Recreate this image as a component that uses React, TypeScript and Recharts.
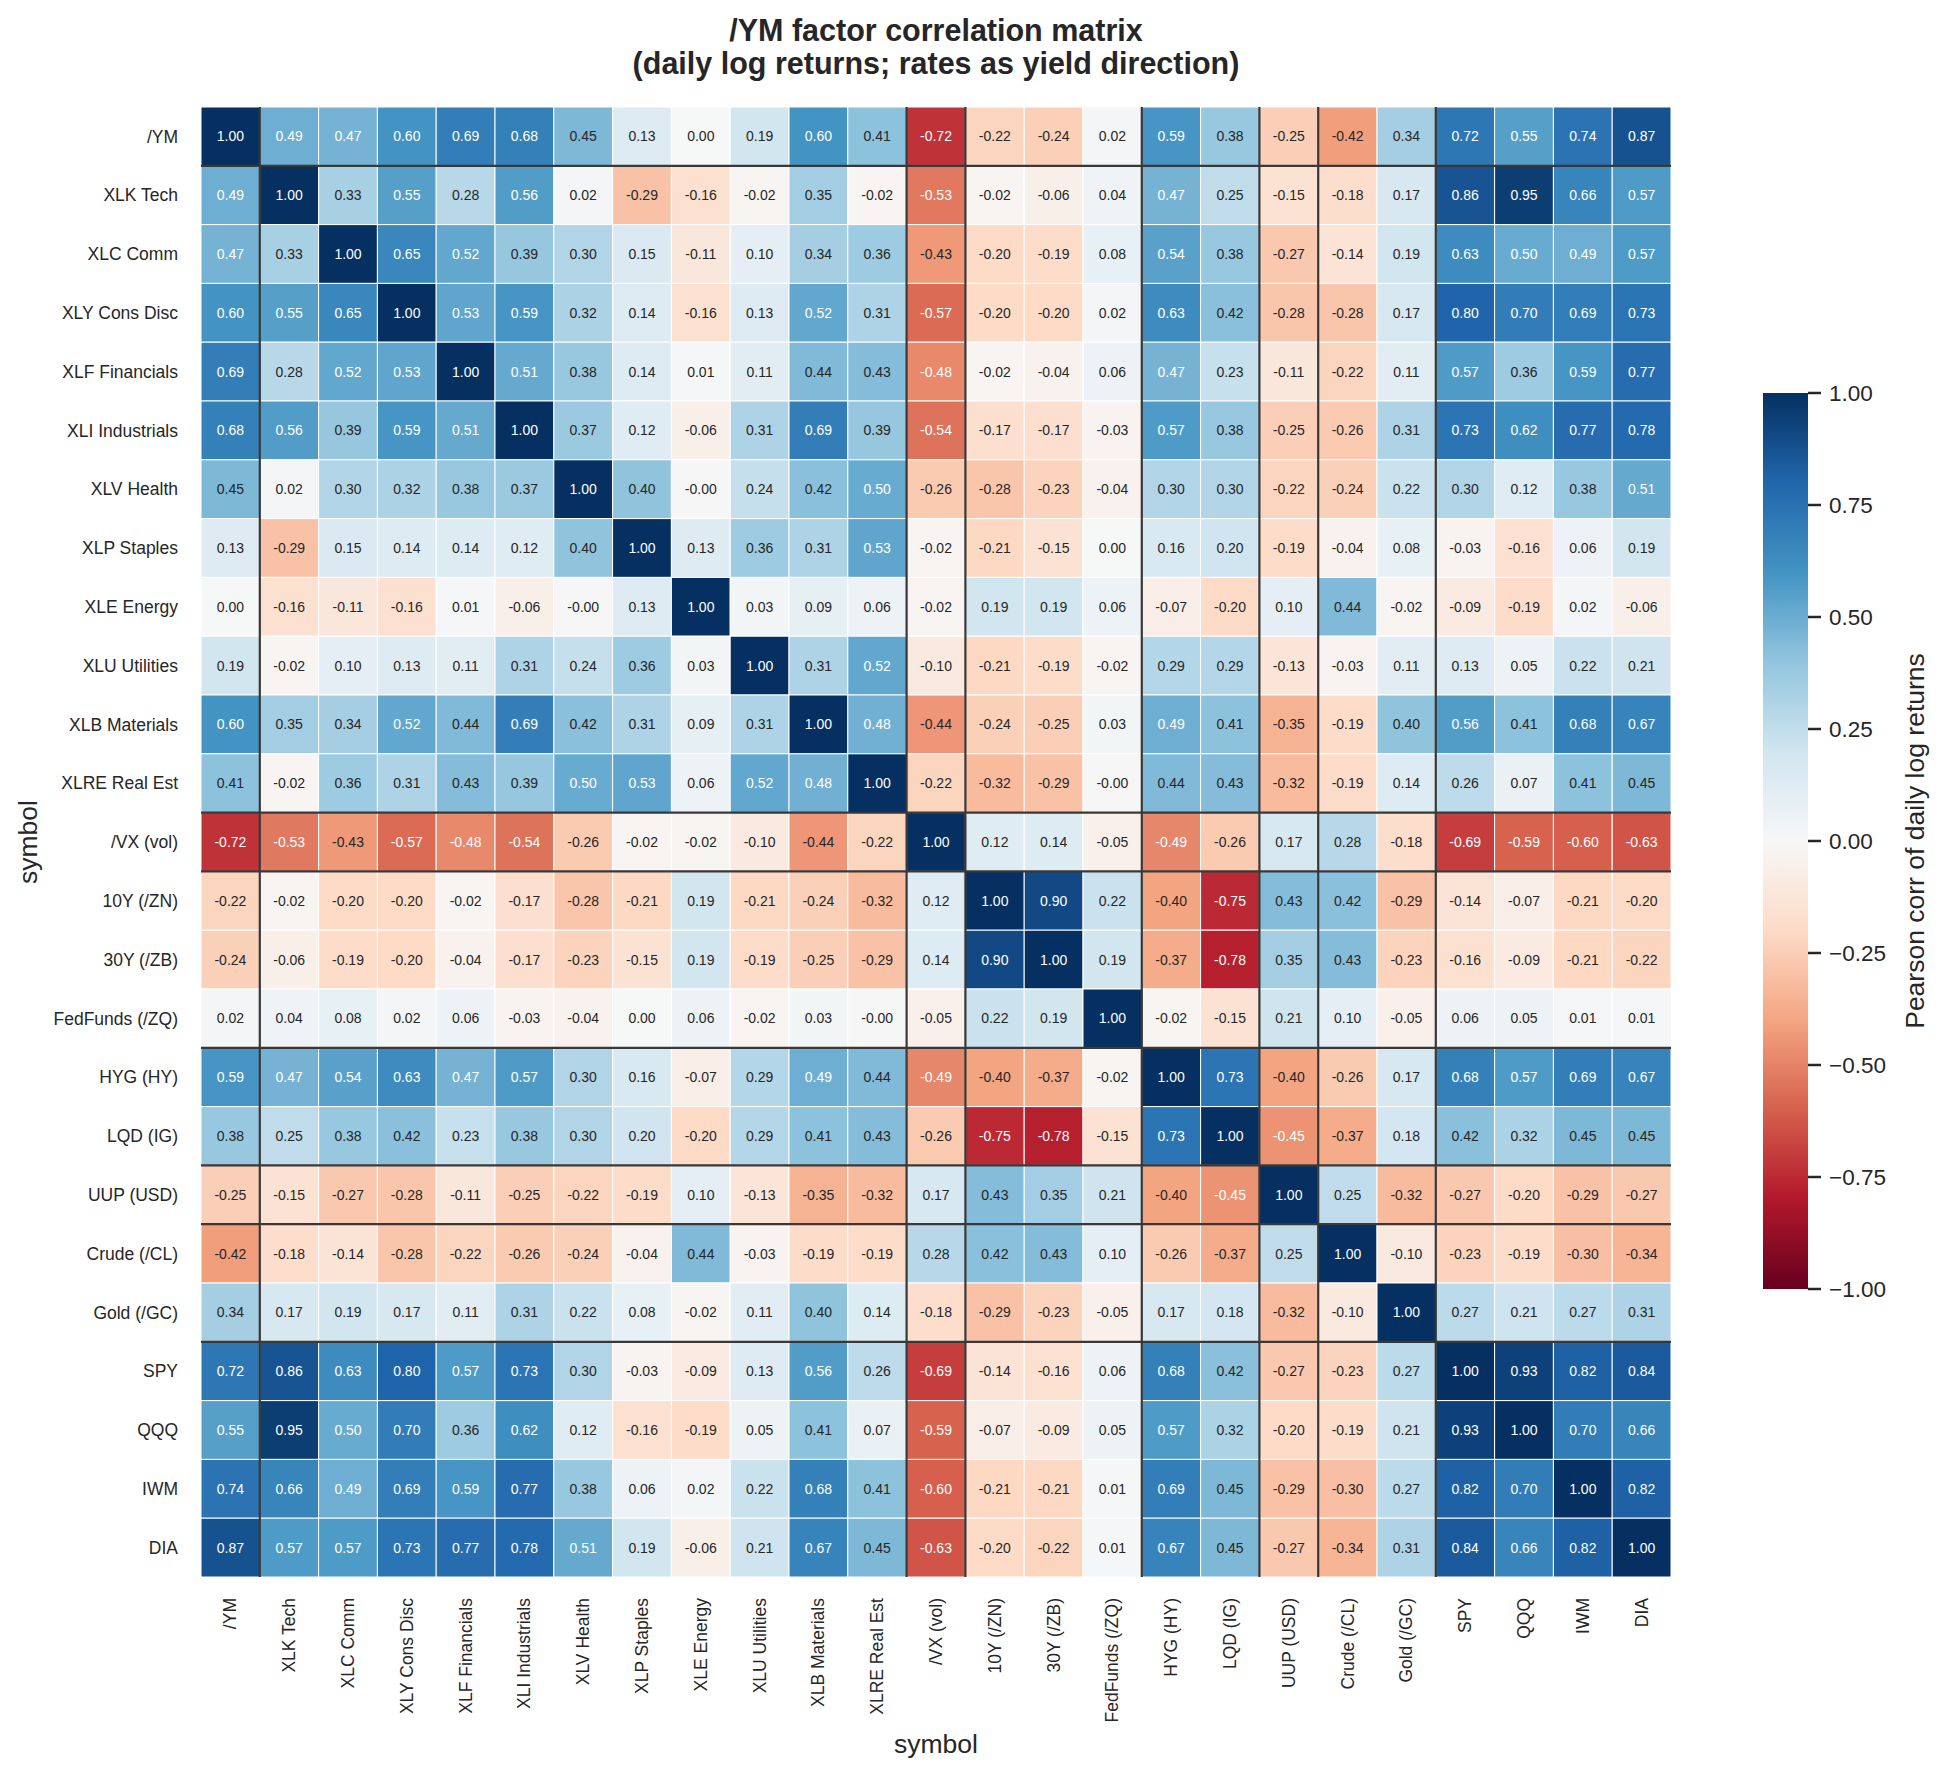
import React from 'react';
import { ScatterChart, Scatter, XAxis, YAxis, ReferenceLine } from 'recharts';

const SYMBOLS = [
  '/YM', 'XLK Tech', 'XLC Comm', 'XLY Cons Disc', 'XLF Financials', 'XLI Industrials',
  'XLV Health', 'XLP Staples', 'XLE Energy', 'XLU Utilities', 'XLB Materials', 'XLRE Real Est',
  '/VX (vol)', '10Y (/ZN)', '30Y (/ZB)', 'FedFunds (/ZQ)', 'HYG (HY)', 'LQD (IG)',
  'UUP (USD)', 'Crude (/CL)', 'Gold (/GC)', 'SPY', 'QQQ', 'IWM', 'DIA',
];

// lower triangle of the correlation matrix (row i holds columns 0..i); mirrored for the upper half
const CORR_LOWER = [
  [1.0],
  [0.49, 1.0],
  [0.47, 0.33, 1.0],
  [0.6, 0.55, 0.65, 1.0],
  [0.69, 0.28, 0.52, 0.53, 1.0],
  [0.68, 0.56, 0.39, 0.59, 0.51, 1.0],
  [0.45, 0.02, 0.3, 0.32, 0.38, 0.37, 1.0],
  [0.13, -0.29, 0.15, 0.14, 0.14, 0.12, 0.4, 1.0],
  [0.0, -0.16, -0.11, -0.16, 0.01, -0.06, -0.003, 0.13, 1.0],
  [0.19, -0.02, 0.1, 0.13, 0.11, 0.31, 0.24, 0.36, 0.03, 1.0],
  [0.6, 0.35, 0.34, 0.52, 0.44, 0.69, 0.42, 0.31, 0.09, 0.31, 1.0],
  [0.41, -0.02, 0.36, 0.31, 0.43, 0.39, 0.5, 0.53, 0.06, 0.52, 0.48, 1.0],
  [-0.72, -0.53, -0.43, -0.57, -0.48, -0.54, -0.26, -0.02, -0.02, -0.1, -0.44, -0.22, 1.0],
  [-0.22, -0.02, -0.2, -0.2, -0.02, -0.17, -0.28, -0.21, 0.19, -0.21, -0.24, -0.32, 0.12, 1.0],
  [-0.24, -0.06, -0.19, -0.2, -0.04, -0.17, -0.23, -0.15, 0.19, -0.19, -0.25, -0.29, 0.14, 0.9, 1.0],
  [0.02, 0.04, 0.08, 0.02, 0.06, -0.03, -0.04, 0.0, 0.06, -0.02, 0.03, -0.003, -0.05, 0.22, 0.19, 1.0],
  [0.59, 0.47, 0.54, 0.63, 0.47, 0.57, 0.3, 0.16, -0.07, 0.29, 0.49, 0.44, -0.49, -0.4, -0.37, -0.02, 1.0],
  [0.38, 0.25, 0.38, 0.42, 0.23, 0.38, 0.3, 0.2, -0.2, 0.29, 0.41, 0.43, -0.26, -0.75, -0.78, -0.15, 0.73, 1.0],
  [-0.25, -0.15, -0.27, -0.28, -0.11, -0.25, -0.22, -0.19, 0.1, -0.13, -0.35, -0.32, 0.17, 0.43, 0.35, 0.21, -0.4, -0.45, 1.0],
  [-0.42, -0.18, -0.14, -0.28, -0.22, -0.26, -0.24, -0.04, 0.44, -0.03, -0.19, -0.19, 0.28, 0.42, 0.43, 0.1, -0.26, -0.37, 0.25, 1.0],
  [0.34, 0.17, 0.19, 0.17, 0.11, 0.31, 0.22, 0.08, -0.02, 0.11, 0.4, 0.14, -0.18, -0.29, -0.23, -0.05, 0.17, 0.18, -0.32, -0.1, 1.0],
  [0.72, 0.86, 0.63, 0.8, 0.57, 0.73, 0.3, -0.03, -0.09, 0.13, 0.56, 0.26, -0.69, -0.14, -0.16, 0.06, 0.68, 0.42, -0.27, -0.23, 0.27, 1.0],
  [0.55, 0.95, 0.5, 0.7, 0.36, 0.62, 0.12, -0.16, -0.19, 0.05, 0.41, 0.07, -0.59, -0.07, -0.09, 0.05, 0.57, 0.32, -0.2, -0.19, 0.21, 0.93, 1.0],
  [0.74, 0.66, 0.49, 0.69, 0.59, 0.77, 0.38, 0.06, 0.02, 0.22, 0.68, 0.41, -0.6, -0.21, -0.21, 0.01, 0.69, 0.45, -0.29, -0.3, 0.27, 0.82, 0.7, 1.0],
  [0.87, 0.57, 0.57, 0.73, 0.77, 0.78, 0.51, 0.19, -0.06, 0.21, 0.67, 0.45, -0.63, -0.2, -0.22, 0.01, 0.67, 0.45, -0.27, -0.34, 0.31, 0.84, 0.66, 0.82, 1.0],
];

// dark separators between symbol groups
const GROUP_BREAKS = [1, 12, 13, 16, 18, 19, 21];
const CBAR_TICKS = [1, 0.75, 0.5, 0.25, 0, -0.25, -0.5, -0.75, -1];

// colorbrewer RdBu, low (red) -> high (blue)
const RDBU = [
  '#67001f', '#b2182b', '#d6604d', '#f4a582', '#fddbc7', '#f7f7f7',
  '#d1e5f0', '#92c5de', '#4393c3', '#2166ac', '#053061',
];

const W = 1939;
const H = 1777;
const M = { top: 107, right: 268, bottom: 0, left: 0 };
const Y_AXIS_W = 201;
const X_AXIS_H = 200;
const N = SYMBOLS.length;
const CELL = (W - M.left - M.right - Y_AXIS_W) / N;
const PLOT_CX = M.left + Y_AXIS_W + (CELL * N) / 2;
const PLOT_CY = M.top + (CELL * N) / 2;
const FONT = '"Liberation Sans", Arial, Helvetica, sans-serif';
const INK = '#262626';

const hexToRgb = (h: string) => [1, 3, 5].map((i) => parseInt(h.slice(i, i + 2), 16) / 255);

function rdbu(v: number) {
  const t = Math.min(1, Math.max(0, (v + 1) / 2));
  const q = Math.min(255, Math.floor(t * 256)) / 255;
  const p = q * (RDBU.length - 1);
  const i = Math.min(RDBU.length - 2, Math.floor(p));
  const f = p - i;
  const a = hexToRgb(RDBU[i]);
  const b = hexToRgb(RDBU[i + 1]);
  return a.map((c, k) => c + (b[k] - c) * f);
}

const toCss = (rgb: number[]) => `rgb(${rgb.map((c) => Math.round(c * 255)).join(',')})`;

function luminance(rgb: number[]) {
  const lin = rgb.map((c) => (c <= 0.03928 ? c / 12.92 : Math.pow((c + 0.055) / 1.055, 2.4)));
  return 0.2126 * lin[0] + 0.7152 * lin[1] + 0.0722 * lin[2];
}

const corr = (r: number, c: number) => (c <= r ? CORR_LOWER[r][c] : CORR_LOWER[c][r]);

const cells = SYMBOLS.flatMap((_, r) =>
  SYMBOLS.map((__, c) => ({ x: c + 0.5, y: r + 0.5, v: corr(r, c) })),
);

const TICKS = SYMBOLS.map((_, i) => i + 0.5);

function HeatCell(props: any) {
  const { cx, cy, payload } = props;
  const rgb = rdbu(payload.v);
  const textFill = luminance(rgb) > 0.408 ? INK : '#ffffff';
  return (
    <g>
      <rect
        x={cx - CELL / 2}
        y={cy - CELL / 2}
        width={CELL}
        height={CELL}
        fill={toCss(rgb)}
        stroke="#ffffff"
        strokeWidth={1}
      />
      <text
        x={cx}
        y={cy}
        textAnchor="middle"
        dominantBaseline="central"
        fontSize={14}
        fontFamily={FONT}
        fill={textFill}
      >
        {payload.v.toFixed(2)}
      </text>
    </g>
  );
}

function XTick(props: any) {
  const { x, y, payload } = props;
  return (
    <text
      x={x}
      y={y}
      transform={`rotate(-90 ${x} ${y})`}
      textAnchor="end"
      dominantBaseline="central"
      fontSize={17.5}
      fontFamily={FONT}
      fill={INK}
    >
      {SYMBOLS[Math.floor(payload.value)]}
    </text>
  );
}

function Overlay() {
  const cb = { x: 1763, y: 393, w: 45, h: 896 };
  const cbY = (v: number) => cb.y + ((1 - v) / 2) * cb.h;
  return (
    <svg
      width={W}
      height={H}
      style={{ position: 'absolute', left: 0, top: 0, pointerEvents: 'none' }}
      fontFamily={FONT}
    >
      <defs>
        <linearGradient id="cbar" x1="0" y1="0" x2="0" y2="1">
          {RDBU.map((c, i) => (
            <stop key={c} offset={i / (RDBU.length - 1)} stopColor={RDBU[RDBU.length - 1 - i]} />
          ))}
        </linearGradient>
      </defs>
      <text x={PLOT_CX} y={41} textAnchor="middle" fontSize={30.5} fontWeight="bold" fill={INK}>
        /YM factor correlation matrix
      </text>
      <text x={PLOT_CX} y={74} textAnchor="middle" fontSize={30.5} fontWeight="bold" fill={INK}>
        (daily log returns; rates as yield direction)
      </text>
      <text x={PLOT_CX} y={1753} textAnchor="middle" fontSize={26.5} fill={INK}>
        symbol
      </text>
      <text
        x={28}
        y={PLOT_CY}
        transform={`rotate(-90 28 ${PLOT_CY})`}
        textAnchor="middle"
        dominantBaseline="central"
        fontSize={26.5}
        fill={INK}
      >
        symbol
      </text>
      <rect x={cb.x} y={cb.y} width={cb.w} height={cb.h} fill="url(#cbar)" />
      {CBAR_TICKS.map((t) => (
        <g key={t}>
          <line x1={cb.x + cb.w} x2={cb.x + cb.w + 13} y1={cbY(t)} y2={cbY(t)} stroke={INK} strokeWidth={2.5} />
          <text x={cb.x + cb.w + 21} y={cbY(t)} dominantBaseline="central" fontSize={22.5} fill={INK}>
            {t < 0 ? `\u2212${Math.abs(t).toFixed(2)}` : t.toFixed(2)}
          </text>
        </g>
      ))}
      <text
        x={1915}
        y={cb.y + cb.h / 2}
        transform={`rotate(-90 1915 ${cb.y + cb.h / 2})`}
        textAnchor="middle"
        dominantBaseline="central"
        fontSize={26.5}
        fill={INK}
      >
        Pearson corr of daily log returns
      </text>
    </svg>
  );
}

export default function App() {
  return (
    <div
      style={{
        position: 'absolute',
        left: 0,
        top: 0,
        width: W,
        height: H,
        background: '#ffffff',
        fontFamily: FONT,
      }}
    >
      <ScatterChart width={W} height={H} margin={M}>
        <XAxis
          type="number"
          dataKey="x"
          domain={[0, N]}
          ticks={TICKS}
          interval={0}
          height={X_AXIS_H}
          tickLine={false}
          axisLine={false}
          tickSize={0}
          tickMargin={21}
          tick={<XTick />}
        />
        <YAxis
          type="number"
          dataKey="y"
          domain={[0, N]}
          reversed
          ticks={TICKS}
          interval={0}
          width={Y_AXIS_W}
          tickLine={false}
          axisLine={false}
          tickSize={0}
          tickMargin={23}
          tickFormatter={(v: number) => SYMBOLS[Math.floor(v)]}
          tick={{ fontSize: 17.5, fill: INK, fontFamily: FONT }}
        />
        <Scatter data={cells} shape={<HeatCell />} isAnimationActive={false} />
        {GROUP_BREAKS.map((b) => (
          <ReferenceLine key={`vx-${b}`} x={b} stroke="#383838" strokeWidth={2.2} zIndex={1000} />
        ))}
        {GROUP_BREAKS.map((b) => (
          <ReferenceLine key={`hy-${b}`} y={b} stroke="#383838" strokeWidth={2.2} zIndex={1000} />
        ))}
      </ScatterChart>
      <Overlay />
    </div>
  );
}
